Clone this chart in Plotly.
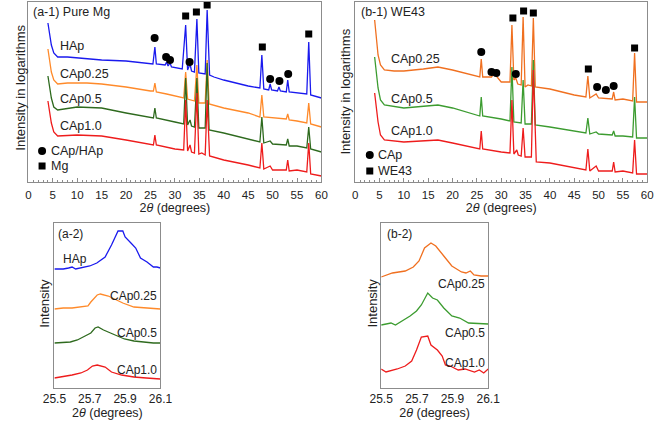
import plotly.graph_objects as go

# ---------------- (a-1) Pure Mg : 2theta vs intensity (arb. units, log-like) ----------------
a1_x_hap = [4, 4.3, 4.7, 5.2, 6, 8, 10, 15, 20, 24, 25.5, 25.9, 26.2, 28, 28.3, 28.6, 29, 29.3, 31.5, 32.2, 32.6,
            33.1, 33.4, 34.0, 34.5, 34.9, 36.2, 36.6, 37.1, 38, 40, 45, 47.4, 47.8, 48.2, 49.2, 49.5, 49.8, 51.0,
            51.3, 51.6, 52.8, 53.1, 53.4, 55, 57, 57.4, 57.8, 60]
a1_y_hap = [159, 150, 137, 129, 125, 125, 124, 122, 121, 119, 118, 135, 118, 117, 120, 116, 119, 115, 113, 157, 112,
            118, 111, 110, 163, 109, 108, 172, 107, 105, 102, 96, 94, 127, 93, 92, 98, 92, 91,
            95, 91, 90, 102, 90, 89, 88, 140, 87, 84]

a1_x_c025 = [4, 4.3, 4.7, 5.2, 6, 8, 10, 12, 15, 20, 25, 25.6, 25.9, 26.2, 28.3, 30, 31.8, 32.2, 32.6, 34, 34.5,
             34.9, 36.2, 36.6, 37, 40, 45, 47.4, 47.8, 48.2, 50, 52.8, 53.1, 53.4, 55, 57, 57.4, 57.8, 60]
a1_y_c025 = [133, 124, 110, 102, 98, 99, 99, 99, 98, 95, 91, 91, 99, 90, 88, 86, 84, 110, 83, 81, 117,
             79, 79, 122, 78, 74, 69, 65, 87, 65, 64, 63, 68, 62, 61, 59, 79, 58, 55]

a1_x_c05 = [4, 4.3, 4.7, 5.2, 6, 10, 15, 20, 25, 25.6, 25.9, 26.2, 30, 31.8, 32.2, 32.6, 33.1, 33.4, 34, 34.5,
            34.9, 36.2, 36.6, 37, 40, 45, 47.4, 47.8, 48.2, 49.5, 50, 52.8, 53.1, 53.4, 55, 57, 57.4, 57.8, 60]
a1_y_c05 = [106, 97, 84, 75, 72, 75, 74, 69, 65, 64, 74, 64, 60, 58, 104, 57, 62, 56, 55, 104,
            54, 54, 119, 52, 49, 43, 40, 65, 39, 41, 38, 37, 43, 36, 36, 34, 55, 33, 30]

a1_x_c10 = [4, 4.3, 4.7, 5.2, 6, 10, 15, 20, 25, 25.6, 25.9, 26.2, 30, 31.8, 32.2, 32.6, 33.1, 33.4, 34, 34.5,
            34.9, 35.5, 36.2, 36.6, 37.1, 40, 45, 47.4, 47.8, 48.2, 49.5, 50, 52.8, 53.1, 53.4, 55, 57, 57.4,
            57.8, 60]
a1_y_c10 = [81, 72, 59, 50, 46, 47, 46, 42, 38, 37, 47, 37, 33, 32, 82, 31, 37, 30, 29, 89,
            28, 29, 27, 82, 26, 22, 17, 14, 39, 13, 16, 12, 12, 22, 11, 12, 10, 39,
            8, 6]

a1_circle_x = [25.85, 28.2, 29.0, 33.0, 49.5, 51.4, 53.2]
a1_circle_y = [144, 125, 122, 120, 103, 101, 108]
a1_square_x = [32.2, 34.4, 36.6, 47.9, 57.4]
a1_square_y = [166, 170, 177, 135, 148]

# ---------------- (b-1) WE43 ----------------
b1_x_c025 = [4, 4.3, 4.7, 5.2, 6, 8, 10, 14, 17, 20, 25, 25.6, 25.9, 26.2, 28, 28.3, 29, 30, 31.8, 32.2, 32.6,
             33, 33.4, 34.1, 34.5, 34.9, 35.5, 36.2, 36.6, 37, 40, 45, 47.4, 47.8, 48.2, 49.5, 50, 52.8, 53.1,
             53.4, 55, 57, 57.4, 57.8, 60]
b1_y_c025 = [162, 147, 127, 117, 112, 111, 111, 113, 115, 112, 106, 105, 123, 105, 105, 107, 106, 100, 100, 157, 102,
             104, 98, 97, 165, 95, 97, 96, 164, 95, 93, 87, 85, 106, 84, 88, 84, 83, 90,
             82, 83, 81, 129, 80, 80]

b1_x_c05 = [4, 4.3, 4.7, 5.2, 6, 10, 15, 17, 20, 25, 25.6, 25.9, 26.2, 30, 31.8, 32.2, 32.6, 34.1, 34.5, 34.9,
            36.2, 36.6, 37, 40, 45, 47.4, 47.8, 48.2, 49.5, 50, 52.8, 53.1, 53.4, 55, 57, 57.4, 57.8, 60]
b1_y_c05 = [125, 112, 94, 82, 77, 74, 76, 77, 74, 67, 66, 85, 66, 63, 61, 115, 60, 59, 102, 58,
            58, 122, 57, 55, 51, 49, 64, 48, 50, 48, 47, 51, 46, 46, 45, 85, 44, 44]

b1_x_c10 = [4, 4.3, 4.7, 5.2, 6, 10, 15, 17, 20, 25, 25.6, 25.9, 26.2, 30, 31.8, 32.2, 32.6, 33.2, 33.5, 34.1,
            34.5, 34.9, 35.5, 36.2, 36.6, 37.2, 40, 45, 47.4, 47.8, 48.2, 49.5, 50, 52.8, 53.1, 53.4, 55, 57,
            57.4, 57.8, 60]
b1_y_c10 = [89, 77, 60, 47, 42, 40, 41, 42, 39, 34, 33, 51, 33, 30, 29, 82, 28, 32, 27, 26,
            54, 25, 25, 25, 112, 20, 19, 14, 12, 33, 11, 16, 11, 11, 20, 10, 11, 9,
            42, 8, 8]

b1_circle_x = [25.9, 28.0, 29.0, 33.0, 49.7, 51.5, 53.1]
b1_circle_y = [130, 110, 109, 108, 95, 92, 96]
b1_square_x = [32.4, 34.6, 36.6, 47.9, 57.4]
b1_square_y = [164, 171, 169, 113, 134]

# ---------------- (a-2) zoom 25.5-26.1 ----------------
a2_x_hap = [25.50, 25.55, 25.58, 25.60, 25.62, 25.65, 25.70, 25.74, 25.787, 25.823, 25.85, 25.86, 25.887,
            25.90, 25.933, 25.96, 25.987, 26.024, 26.06, 26.08, 26.10]
a2_y_hap = [119, 119, 120, 121, 119, 120, 122, 125, 131, 143, 153, 157, 157,
            151, 145, 140, 130, 126, 121, 121, 120]
a2_x_c025 = [25.50, 25.55, 25.60, 25.66, 25.675, 25.69, 25.706, 25.742, 25.76, 25.805, 25.84, 25.887, 25.95,
             26.02, 26.10]
a2_y_c025 = [79, 80, 80, 81, 82, 82, 86, 93, 94, 92, 89, 85, 81, 80, 79]
a2_x_c05 = [25.50, 25.59, 25.63, 25.675, 25.706, 25.73, 25.747, 25.778, 25.805, 25.86, 25.896, 25.95, 26.0,
            26.06, 26.10]
a2_y_c05 = [45, 46, 48, 52, 55, 60, 61, 58, 56, 52, 49, 47, 46, 45, 45]
a2_x_c10 = [25.50, 25.54, 25.60, 25.65, 25.687, 25.715, 25.742, 25.787, 25.823, 25.88, 25.95, 26.02, 26.10]
a2_y_c10 = [10, 11, 13, 15, 18, 22, 23, 21, 16, 13, 11, 10, 9]

# ---------------- (b-2) zoom 25.5-26.1 ----------------
b2_x_c025 = [25.50, 25.563, 25.635, 25.68, 25.712, 25.743, 25.779, 25.806, 25.851, 25.896, 25.95, 25.975,
             26.0, 26.02, 26.06, 26.10]
b2_y_c025 = [111, 115, 117, 121, 127, 140, 145, 142, 132, 122, 116, 115, 117, 113, 112, 112]
b2_x_c05 = [25.50, 25.555, 25.58, 25.662, 25.698, 25.725, 25.761, 25.788, 25.815, 25.851, 25.896, 25.94,
            25.99, 26.10]
b2_y_c05 = [63, 65, 63, 72, 77, 83, 95, 90, 88, 80, 72, 70, 65, 64]
b2_x_c10 = [25.50, 25.527, 25.59, 25.635, 25.671, 25.698, 25.725, 25.761, 25.779, 25.815, 25.842, 25.86,
            25.887, 25.932, 25.97, 26.023, 26.05, 26.075, 26.10]
b2_y_c10 = [19, 16, 19, 22, 27, 38, 51, 52, 43, 38, 32, 23, 22, 18, 19, 16, 18, 15, 19]

series_labels = ["HAp", "CAp0.25", "CAp0.5", "CAp1.0"]

W, H = 666, 421
FONT = "Liberation Sans, Arial, sans-serif"
C_BLUE = "#1a1aee"
C_ORANGE_A = "#ff8a2a"
C_GREEN_A = "#2e6a1e"
C_RED = "#ee1c1c"
C_ORANGE_B = "#f07020"
C_GREEN_B = "#3c9c30"
AXC = "#8c8c8c"


def px_x(p):
    return p / W


def px_y(p):
    return 1 - p / H


fig = go.Figure()


def line(x, y, color, xa, ya):
    fig.add_trace(go.Scatter(x=x, y=y, mode="lines", line=dict(color=color, width=1.3),
                             xaxis=xa, yaxis=ya, showlegend=False, hoverinfo="skip"))


def marks(x, y, sym, xa, ya, size=7):
    fig.add_trace(go.Scatter(x=x, y=y, mode="markers",
                             marker=dict(symbol=sym, color="black", size=size, line=dict(width=0)),
                             xaxis=xa, yaxis=ya, showlegend=False, hoverinfo="skip"))


# a-1
line(a1_x_hap, a1_y_hap, C_BLUE, "x", "y")
line(a1_x_c025, a1_y_c025, C_ORANGE_A, "x", "y")
line(a1_x_c05, a1_y_c05, C_GREEN_A, "x", "y")
line(a1_x_c10, a1_y_c10, C_RED, "x", "y")
marks(a1_circle_x, a1_circle_y, "circle", "x", "y", 8)
marks(a1_square_x, a1_square_y, "square", "x", "y", 7)
marks([2.8], [31], "circle", "x", "y", 8)
marks([2.8], [16], "square", "x", "y", 7)

# b-1
line(b1_x_c025, b1_y_c025, C_ORANGE_B, "x2", "y2")
line(b1_x_c05, b1_y_c05, C_GREEN_B, "x2", "y2")
line(b1_x_c10, b1_y_c10, C_RED, "x2", "y2")
marks(b1_circle_x, b1_circle_y, "circle", "x2", "y2", 8)
marks(b1_square_x, b1_square_y, "square", "x2", "y2", 7)
marks([3.0], [27], "circle", "x2", "y2", 8)
marks([3.0], [11], "square", "x2", "y2", 7)

# a-2
line(a2_x_hap, a2_y_hap, C_BLUE, "x3", "y3")
line(a2_x_c025, a2_y_c025, C_ORANGE_A, "x3", "y3")
line(a2_x_c05, a2_y_c05, C_GREEN_A, "x3", "y3")
line(a2_x_c10, a2_y_c10, C_RED, "x3", "y3")

# b-2
line(b2_x_c025, b2_y_c025, C_ORANGE_B, "x4", "y4")
line(b2_x_c05, b2_y_c05, C_GREEN_B, "x4", "y4")
line(b2_x_c10, b2_y_c10, C_RED, "x4", "y4")

big_x = dict(range=[0, 60], tickvals=list(range(0, 61, 5)), ticks="inside", ticklen=4, tickcolor=AXC,
             minor=dict(dtick=1, ticks="inside", ticklen=2, tickcolor=AXC),
             showline=True, linecolor=AXC, linewidth=1, mirror=True, showgrid=False, zeroline=False,
             tickfont=dict(size=11.5, color="#222"), ticklabelstandoff=2,
             title=dict(text="2<i>θ</i> (degrees)", font=dict(size=12.5, color="#222"), standoff=2))
small_x = dict(range=[25.5, 26.1], tickvals=[25.5, 25.7, 25.9, 26.1], ticktext=["25.5", "25.7", "25.9", "26.1"],
               ticks="", showline=True, linecolor=AXC, linewidth=1, mirror=True, showgrid=False,
               zeroline=False, tickfont=dict(size=12, color="#222"),
               title=dict(text="2<i>θ</i> (degrees)", font=dict(size=12.5, color="#222"), standoff=2))
ybase = dict(showticklabels=False, ticks="", showline=True, linecolor=AXC, linewidth=1, mirror=True,
             showgrid=False, zeroline=False)

fig.update_layout(
    width=W, height=H, margin=dict(l=0, r=0, t=0, b=0),
    paper_bgcolor="white", plot_bgcolor="white",
    font=dict(family=FONT, color="#222"),
    xaxis=dict(big_x, domain=[px_x(17), px_x(321)], anchor="y"),
    yaxis=dict(ybase, domain=[px_y(182), px_y(2)], range=[0, 180], anchor="x"),
    xaxis2=dict(big_x, domain=[px_x(356), px_x(659)], anchor="y2"),
    yaxis2=dict(ybase, domain=[px_y(182), px_y(2)], range=[0, 180], anchor="x2"),
    xaxis3=dict(small_x, domain=[px_x(44), px_x(154)], anchor="y3"),
    yaxis3=dict(ybase, domain=[px_y(388), px_y(223)], range=[0, 165], anchor="x3"),
    xaxis4=dict(small_x, domain=[px_x(383), px_x(494)], anchor="y4"),
    yaxis4=dict(ybase, domain=[px_y(388), px_y(223)], range=[0, 165], anchor="x4"),
)

ann = []


def txt(t, x, y, xr, yr, anchor="left", size=12.5, angle=0):
    ann.append(dict(text=t, x=x, y=y, xref=xr, yref=yr, showarrow=False, xanchor=anchor,
                    yanchor="middle", textangle=angle, font=dict(size=size, color="#222", family=FONT)))


# a-1 texts
txt("(a-1) Pure Mg", 0.5, 170, "x", "y", size=12.5)
a1_label_y = [136, 108, 83, 56]
for s, yy in zip(series_labels, a1_label_y):
    txt(s, 6.1, yy, "x", "y")
txt("CAp/HAp", 4.3, 31, "x", "y")
txt("Mg", 4.3, 16, "x", "y")
# b-1 texts
txt("(b-1) WE43", 0.7, 170, "x2", "y2", size=12.5)
b1_label_y = [123, 83, 51]
for s, yy in zip(series_labels[1:], b1_label_y):
    txt(s, 7.0, yy, "x2", "y2")
txt("CAp", 4.2, 27, "x2", "y2")
txt("WE43", 4.2, 11, "x2", "y2")
# a-2 texts
txt("(a-2)", 25.51, 154, "x3", "y3", size=12)
txt("HAp", 25.535, 129, "x3", "y3", size=12)
a2_label_y = [92, 55, 18]
for s, yy in zip(series_labels[1:], a2_label_y):
    txt(s, 26.09, yy, "x3", "y3", anchor="right", size=12)
# b-2 texts
txt("(b-2)", 25.52, 154, "x4", "y4", size=12)
b2_label_y = [104, 55, 25]
for s, yy in zip(series_labels[1:], b2_label_y):
    txt(s, 26.095, yy, "x4", "y4", anchor="right", size=12)

# y axis titles (paper coords)
ann.append(dict(text="Intensity in logarithms", x=px_x(8), y=px_y(88), xref="paper", yref="paper",
                showarrow=False, textangle=-90, xanchor="center", yanchor="middle",
                font=dict(size=13, color="#222", family=FONT)))
ann.append(dict(text="Intensity in logarithms", x=px_x(345), y=px_y(92), xref="paper", yref="paper",
                showarrow=False, textangle=-90, xanchor="center", yanchor="middle",
                font=dict(size=13, color="#222", family=FONT)))
ann.append(dict(text="Intensity", x=px_x(33), y=px_y(303), xref="paper", yref="paper",
                showarrow=False, textangle=-90, xanchor="center", yanchor="middle",
                font=dict(size=13, color="#222", family=FONT)))
ann.append(dict(text="Intensity", x=px_x(373), y=px_y(303), xref="paper", yref="paper",
                showarrow=False, textangle=-90, xanchor="center", yanchor="middle",
                font=dict(size=13, color="#222", family=FONT)))

fig.update_layout(annotations=ann)
fig.write_html("out.html")
